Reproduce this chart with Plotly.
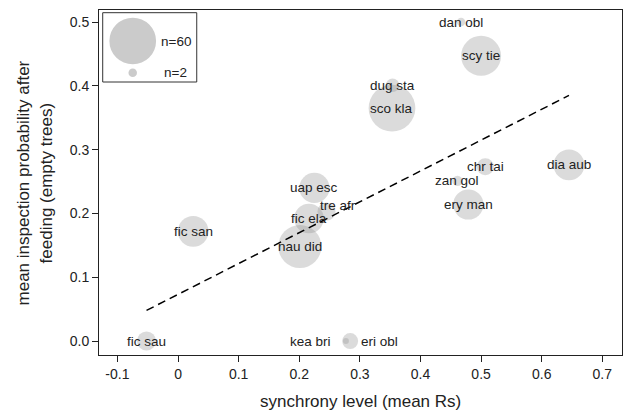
import numpy as np
import plotly.graph_objects as go

# ---- data ----
species = ["dan obl", "scy tie", "dug sta", "sco kla", "chr tai", "dia aub",
           "zan gol", "ery man", "uap esc", "tre afr", "fic ela", "fic san",
           "nau did", "fic sau", "kea bri", "eri obl"]
sync_rs = [0.467, 0.500, 0.354, 0.353, 0.507, 0.645,
           0.461, 0.479, 0.225, 0.245, 0.216, 0.025,
           0.201, -0.052, 0.277, 0.284]
inspect_prob = [0.500, 0.447, 0.401, 0.365, 0.273, 0.276,
                0.251, 0.214, 0.240, 0.203, 0.192, 0.172,
                0.148, 0.000, 0.000, 0.000]
n_obs = [2, 44, 5, 60, 8, 26, 3, 25, 25, 9, 24, 26, 51, 10, 1, 7]

reg_intercept = 0.0731
reg_slope = 0.4835

x_tickvals = [-0.1, 0, 0.1, 0.2, 0.3, 0.4, 0.5, 0.6, 0.7]
x_ticktext = ["-0.1", "0", "0.1", "0.2", "0.3", "0.4", "0.5", "0.6", "0.7"]
y_tickvals = [0.0, 0.1, 0.2, 0.3, 0.4, 0.5]
y_ticktext = ["0.0", "0.1", "0.2", "0.3", "0.4", "0.5"]

legend_n = [60, 2]

# ---- style ----
FONT = "Liberation Sans"
TXT = "#222222"
FILL = "rgba(140,140,140,0.45)"
K = 46.7 / np.sqrt(60)  # px diameter per sqrt(n)

label_style = {
    "kea bri": dict(xanchor="right", xshift=-13, yshift=0),
    "eri obl": dict(xanchor="left", xshift=9, yshift=0),
    "tre afr": dict(xanchor="center", xshift=11, yshift=6),
}

fig = go.Figure()

fig.add_trace(go.Scatter(
    x=sync_rs, y=inspect_prob, mode="markers",
    marker=dict(size=K * np.sqrt(np.array(n_obs)), sizemode="diameter",
                color=FILL, line=dict(width=0)),
    hoverinfo="skip", showlegend=False))

xr = np.array([min(sync_rs), max(sync_rs)])
fig.add_trace(go.Scatter(
    x=xr, y=reg_intercept + reg_slope * xr, mode="lines",
    line=dict(color="black", width=1.5, dash="8px,5px"),
    hoverinfo="skip", showlegend=False))

annotations = []
for name, xv, yv in zip(species, sync_rs, inspect_prob):
    st = label_style.get(name, dict(xanchor="center", xshift=0, yshift=0))
    annotations.append(dict(x=xv, y=yv, text=name, showarrow=False,
                            font=dict(family=FONT, size=13.5, color=TXT),
                            yanchor="middle", **st))

# axis titles
annotations.append(dict(x=0.5, y=-0.1354, xref="paper", yref="paper",
                        text="synchrony level (mean Rs)", showarrow=False,
                        font=dict(family=FONT, size=17, color=TXT),
                        xanchor="center", yanchor="middle"))
annotations.append(dict(x=-0.1224, y=0.5, xref="paper", yref="paper",
                        text="mean inspection probability after<br>feeding (empty trees)",
                        showarrow=False, textangle=-90,
                        font=dict(family=FONT, size=17, color=TXT),
                        xanchor="center", yanchor="middle"))

# size legend (inset box)
shapes = [dict(type="rect", xref="paper", yref="paper",
               x0=0.0071, x1=0.1869, y0=0.7913, y1=0.9922,
               line=dict(color="#333333", width=1), fillcolor="white", layer="below")]
leg_y = [0.9101, 0.8183]
leg_text_x = [0.1793, 0.1722]
for nv, ly, tx in zip(legend_n, leg_y, leg_text_x):
    r = K * np.sqrt(nv) / 2
    shapes.append(dict(type="circle", xref="paper", yref="paper",
                       xsizemode="pixel", ysizemode="pixel",
                       xanchor=0.0645, yanchor=ly,
                       x0=-r, x1=r, y0=-r, y1=r,
                       fillcolor=FILL, line=dict(width=0)))
    annotations.append(dict(x=tx, y=ly, xref="paper", yref="paper",
                            text=f"n={nv}", showarrow=False,
                            font=dict(family=FONT, size=13.5, color=TXT),
                            xanchor="right", yanchor="middle"))

axis_common = dict(showline=True, mirror=True, linecolor="#222222", linewidth=1,
                   ticks="outside", ticklen=6, tickcolor="#222222", tickwidth=1,
                   showgrid=False, zeroline=False,
                   tickfont=dict(family=FONT, size=14, color=TXT))

fig.update_layout(
    width=635, height=412,
    margin=dict(l=99, r=13, t=10, b=57),
    paper_bgcolor="white", plot_bgcolor="white",
    xaxis=dict(range=[-0.1304, 0.7325], tickvals=x_tickvals, ticktext=x_ticktext,
               **axis_common),
    yaxis=dict(range=[-0.0219, 0.5188], tickvals=y_tickvals, ticktext=y_ticktext,
               **axis_common),
    annotations=annotations, shapes=shapes,
)

fig.write_html("out.html")
